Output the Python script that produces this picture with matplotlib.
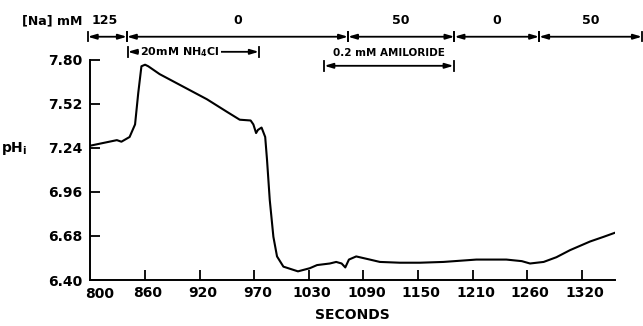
import matplotlib.pyplot as plt
import matplotlib.transforms as mtransforms

plt.rcParams['font.family'] = 'DejaVu Sans'
plt.rcParams['font.weight'] = 'bold'
plt.rcParams['axes.labelweight'] = 'bold'
plt.rcParams['mathtext.default'] = 'bf'

# trace: time (s) and intracellular pH
t = [800, 829, 834, 843, 849, 852.5, 856, 860, 863.5, 876, 902, 928, 950, 964, 976,
     979, 982, 984, 988, 992, 994, 997, 1001, 1005, 1012, 1028, 1041, 1049, 1063,
     1070, 1076, 1080, 1084, 1092, 1107, 1118, 1140, 1162, 1188, 1224, 1257, 1274,
     1283, 1298, 1312, 1327, 1349, 1364, 1376]
ph = [7.255, 7.29, 7.28, 7.31, 7.39, 7.59, 7.76, 7.77, 7.76, 7.71, 7.63, 7.55, 7.47,
      7.42, 7.415, 7.39, 7.335, 7.355, 7.37, 7.31, 7.165, 6.91, 6.675, 6.55, 6.485,
      6.455, 6.475, 6.495, 6.505, 6.515, 6.505, 6.48, 6.53, 6.55, 6.53, 6.515, 6.51,
      6.51, 6.515, 6.53, 6.53, 6.52, 6.505, 6.515, 6.545, 6.59, 6.645, 6.675, 6.70]

# solution changes
na_bounds = [797, 840, 1083, 1200, 1293, 1406]
na_conc = ['125', '0', '50', '0', '50']
nh4cl_span = [841, 985]
amiloride_span = [1057, 1199]

xtick_pos = [860, 920, 980, 1040, 1100, 1160, 1220, 1280, 1340]
xtick_labels = ['860', '920', '970', '1030', '1090', '1150', '1210', '1260', '1320']
ytick_pos = [6.40, 6.68, 6.96, 7.24, 7.52, 7.80]

fig = plt.figure(figsize=(6.43, 3.26), dpi=100)
ax = fig.add_axes([0.1407, 0.1411, 0.8152, 0.6749])

ax.plot(t, ph, color='black', lw=1.5)
ax.set_xlim(800, 1376)
ax.set_ylim(6.40, 7.80)

for s in ['top', 'right']:
    ax.spines[s].set_visible(False)
for s in ['left', 'bottom']:
    ax.spines[s].set_linewidth(1.4)

fs = 10
ax.set_xticks(xtick_pos)
ax.set_xticklabels(xtick_labels)
ax.set_yticks(ytick_pos)
ax.set_yticklabels(['%.2f' % v for v in ytick_pos])
ax.tick_params(axis='both', direction='in', length=7, width=1.3, labelsize=fs)
ax.tick_params(axis='y', pad=6)
ax.tick_params(axis='x', pad=4)
# shift x labels slightly right, like the original lettering
off = mtransforms.ScaledTranslation(3 / 100, 0, fig.dpi_scale_trans)
for lab in ax.get_xticklabels():
    lab.set_transform(lab.get_transform() + off)
ax.text(810, -0.03, '800', transform=ax.get_xaxis_transform(), ha='center', va='top',
        fontsize=fs)

ax.set_xlabel('SECONDS', fontsize=fs, labelpad=6)
ax.text(-0.17, 0.597, 'pH$_i$', transform=ax.transAxes, ha='left', va='center', fontsize=fs)

arrow_kw = dict(arrowstyle='<|-|>,head_length=0.5,head_width=0.15', color='black',
                lw=1.3, shrinkA=0, shrinkB=0)


def bracket(x0, x1, y, dy=0.03):
    ax.annotate('', xy=(x0, y), xytext=(x1, y), xycoords='data', arrowprops=arrow_kw,
                annotation_clip=False)
    for x in (x0, x1):
        ax.plot([x, x], [y - dy, y + dy], color='black', lw=1.3, clip_on=False)


# [Na] row
y_na = 7.948
for i, c in enumerate(na_conc):
    bracket(na_bounds[i], na_bounds[i + 1], y_na)
    ax.text((na_bounds[i] + na_bounds[i + 1]) / 2 if i > 0 else 816, 8.05, c,
            ha='center', va='center', fontsize=fs - 1)
ax.text(758, 8.05, '[Na] mM', ha='center', va='center', fontsize=fs - 1)

# NH4Cl
bracket(nh4cl_span[0], nh4cl_span[1], 7.852)
ax.text(898, 7.852, '20mM NH$_4$Cl', ha='center', va='center', fontsize=8,
        bbox=dict(facecolor='white', edgecolor='none', pad=1))

# amiloride
bracket(amiloride_span[0], amiloride_span[1], 7.763)
ax.text(1128, 7.845, '0.2 mM AMILORIDE', ha='center', va='center', fontsize=7.5)

fig.savefig('out.png', dpi=100)
